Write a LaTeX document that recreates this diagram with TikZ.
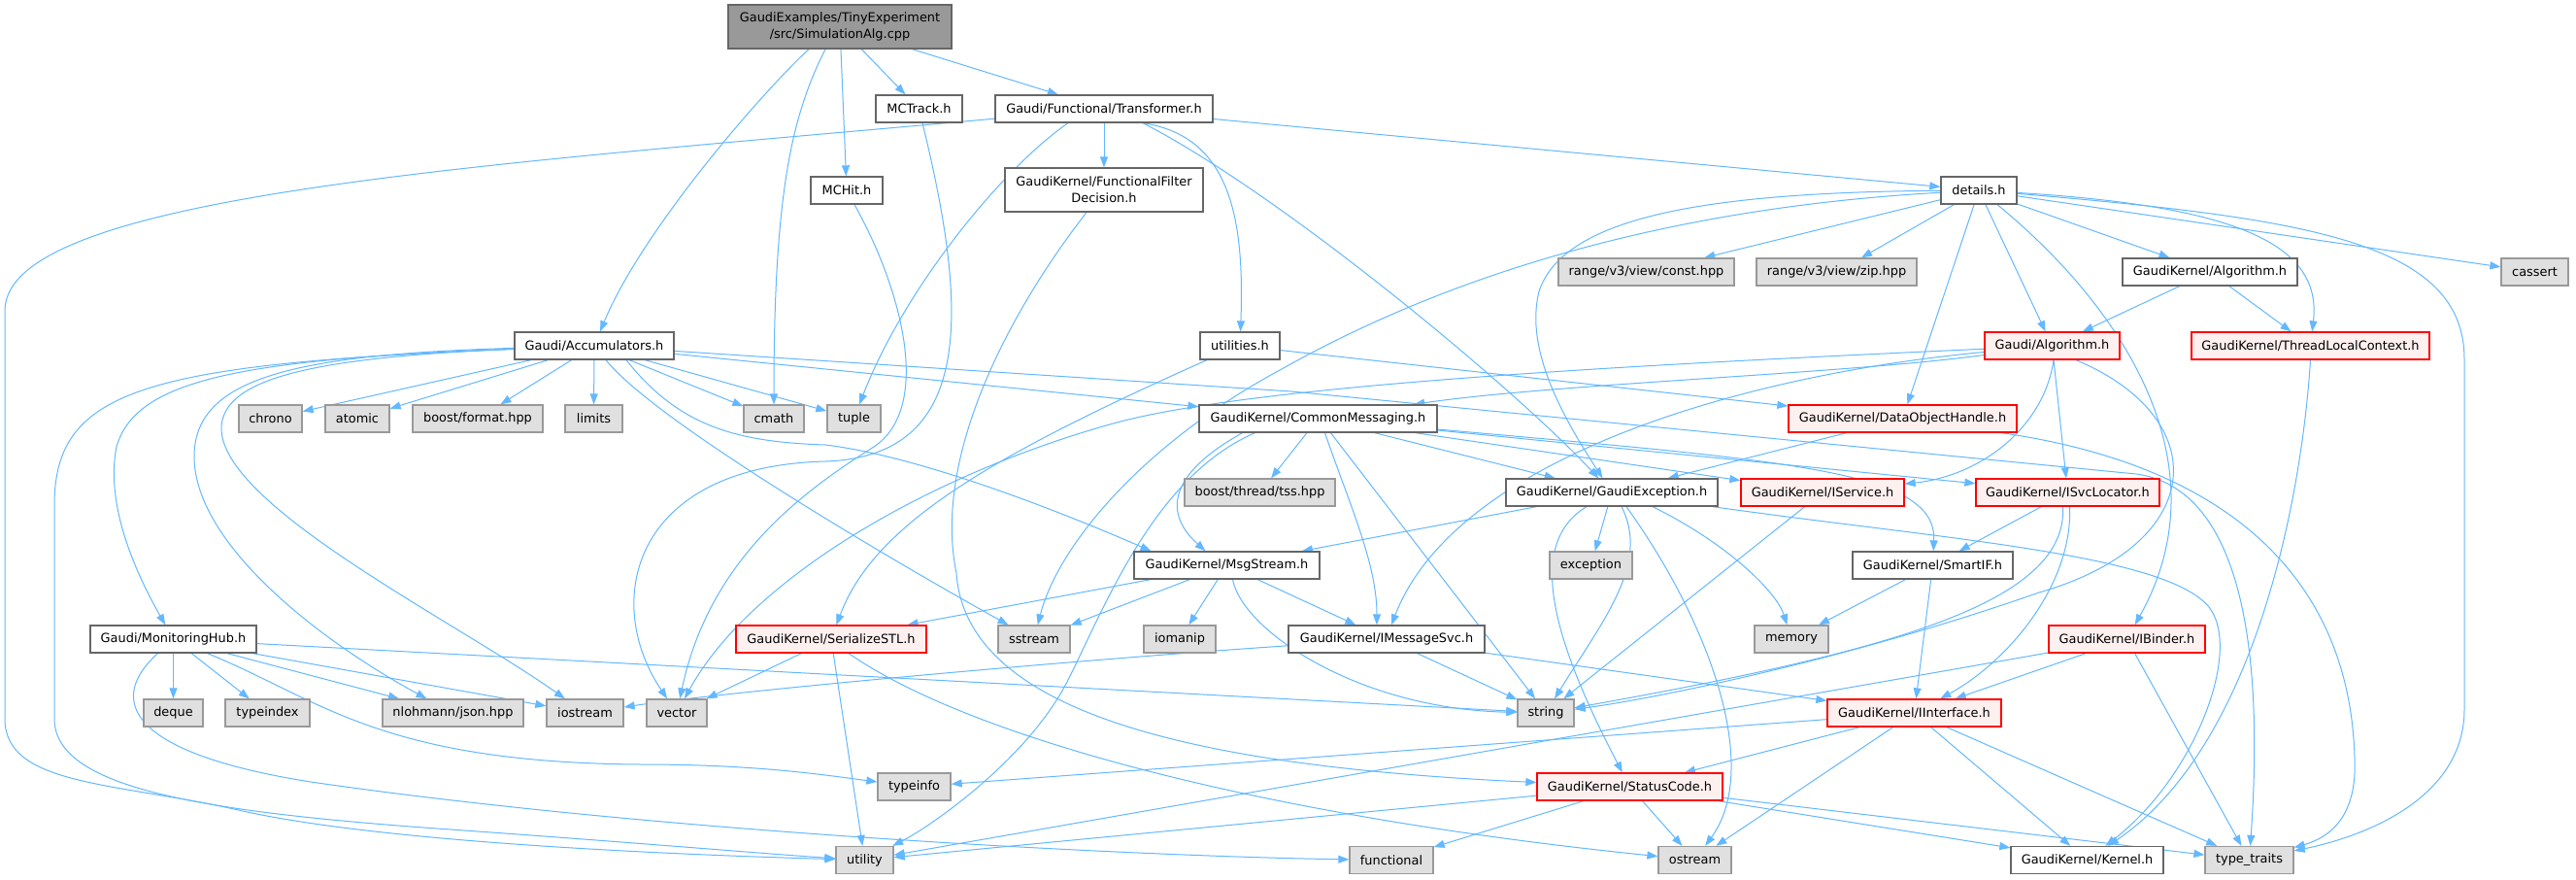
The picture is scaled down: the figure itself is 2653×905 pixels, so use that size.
\documentclass[tikz,border=0pt]{standalone}
\usepackage{fontspec}
\setmainfont{DejaVu Sans}
\usetikzlibrary{arrows.meta,backgrounds}
\definecolor{edgec}{HTML}{63B8FF}
\definecolor{bord}{HTML}{666666}
\definecolor{extfill}{HTML}{E0E0E0}
\definecolor{extbord}{HTML}{999999}
\definecolor{redfill}{HTML}{FFF0F0}
\definecolor{rootfill}{HTML}{999999}
\begin{document}
\begin{tikzpicture}[x=1pt,y=-1pt,
  boxbase/.style={rectangle, draw, line width=1.3pt, inner sep=0pt, minimum height=28pt, font=\fontsize{12.9}{16.7}\selectfont, align=center},
  wnode/.style={boxbase, draw=bord, fill=white},
  xnode/.style={boxbase, draw=extbord, fill=extfill},
  rnode/.style={boxbase, draw=red, fill=redfill},
  rootnode/.style={boxbase, draw=bord, fill=rootfill, minimum height=45pt},
  dep/.style={draw=edgec, line width=1pt, -{Triangle[length=11pt,width=8pt]}},
]
\useasboundingbox (0,0) rectangle (2653,905);

% ---------- nodes ----------
\node[rootnode, minimum width=230pt] (root) at (865,27.5) {GaudiExamples/TinyExperiment\\/src/SimulationAlg.cpp};
\node[wnode, minimum width=89pt] (mctrack) at (946.5,112) {MCTrack.h};
\node[wnode, minimum width=224pt] (transf) at (1137,112) {Gaudi/Functional/Transformer.h};
\node[wnode, minimum width=74pt] (mchit) at (872,196) {MCHit.h};
\node[wnode, minimum width=204pt, minimum height=45pt] (ffd) at (1137,195.5) {GaudiKernel/FunctionalFilter\\Decision.h};
\node[wnode, minimum width=78pt] (details) at (2038,196) {details.h};
\node[xnode, minimum width=181pt] (rconst) at (1695.5,280) {range/v3/view/const.hpp};
\node[xnode, minimum width=165pt] (rzip) at (1891.5,280) {range/v3/view/zip.hpp};
\node[wnode, minimum width=180pt] (gkalgo) at (2276,280) {GaudiKernel/Algorithm.h};
\node[xnode, minimum width=69pt] (cassert) at (2610.5,280) {cassert};
\node[wnode, minimum width=164pt] (acc) at (612,356) {Gaudi/Accumulators.h};
\node[wnode, minimum width=82pt] (utilities) at (1277,356) {utilities.h};
\node[rnode, minimum width=139pt] (galgo) at (2113.5,356) {Gaudi/Algorithm.h};
\node[rnode, minimum width=245pt] (tlc) at (2379.5,356) {GaudiKernel/ThreadLocalContext.h};
\node[xnode, minimum width=65pt] (chrono) at (278.5,431) {chrono};
\node[xnode, minimum width=66pt] (atomic) at (368,431) {atomic};
\node[xnode, minimum width=134pt] (bformat) at (492,431) {boost/format.hpp};
\node[xnode, minimum width=59pt] (limits) at (611.5,431) {limits};
\node[xnode, minimum width=62pt] (cmath) at (797,431) {cmath};
\node[xnode, minimum width=55pt] (tuple) at (879.5,431) {tuple};
\node[wnode, minimum width=245pt] (commsg) at (1357.5,431) {GaudiKernel/CommonMessaging.h};
\node[rnode, minimum width=235pt] (doh) at (1959.5,431) {GaudiKernel/DataObjectHandle.h};
\node[xnode, minimum width=155pt] (tss) at (1297.5,507) {boost/thread/tss.hpp};
\node[wnode, minimum width=218pt] (gexc) at (1660,507) {GaudiKernel/GaudiException.h};
\node[rnode, minimum width=168pt] (iservice) at (1877,507) {GaudiKernel/IService.h};
\node[rnode, minimum width=189pt] (isvc) at (2129.5,507) {GaudiKernel/ISvcLocator.h};
\node[wnode, minimum width=191pt] (msgstream) at (1263.5,582) {GaudiKernel/MsgStream.h};
\node[xnode, minimum width=85pt] (exception) at (1638.5,582) {exception};
\node[wnode, minimum width=165pt] (smartif) at (1990.5,582) {GaudiKernel/SmartIF.h};
\node[wnode, minimum width=171pt] (monhub) at (178.5,658) {Gaudi/MonitoringHub.h};
\node[rnode, minimum width=196pt] (serial) at (856,658) {GaudiKernel/SerializeSTL.h};
\node[xnode, minimum width=74pt] (sstream) at (1065,658) {sstream};
\node[xnode, minimum width=74pt] (iomanip) at (1215,658) {iomanip};
\node[wnode, minimum width=202pt] (imsg) at (1428,658) {GaudiKernel/IMessageSvc.h};
\node[xnode, minimum width=76pt] (memory) at (1845,658) {memory};
\node[rnode, minimum width=161pt] (ibinder) at (2190.5,658) {GaudiKernel/IBinder.h};
\node[xnode, minimum width=61pt] (deque) at (178.5,734) {deque};
\node[xnode, minimum width=87pt] (typeindex) at (275.5,734) {typeindex};
\node[xnode, minimum width=145pt] (json) at (466.5,734) {nlohmann/json.hpp};
\node[xnode, minimum width=79pt] (iostream) at (602.5,734) {iostream};
\node[xnode, minimum width=62pt] (vector) at (697,734) {vector};
\node[xnode, minimum width=58pt] (string) at (1592,734) {string};
\node[rnode, minimum width=179pt] (iinterface) at (1971.5,734) {GaudiKernel/IInterface.h};
\node[xnode, minimum width=75pt] (typeinfo) at (941.5,810) {typeinfo};
\node[rnode, minimum width=191pt] (statuscode) at (1678.5,810) {GaudiKernel/StatusCode.h};
\node[xnode, minimum width=59pt] (utility) at (890.5,885.5) {utility};
\node[xnode, minimum width=86pt] (functional) at (1433,885.5) {functional};
\node[xnode, minimum width=75pt] (ostream) at (1745.5,885.5) {ostream};
\node[wnode, minimum width=157pt] (kernel) at (2149.5,885.5) {GaudiKernel/Kernel.h};
\node[xnode, minimum width=91pt] (typetraits) at (2316.5,885.5) {type\_traits};

% ---------- edges ----------
\begin{pgfonlayer}{background}
\fill[white] (0,0) rectangle (2653,905);
% root
\draw[dep] ([xshift=-32pt]root.south) .. controls (780,100) and (660,240) .. (acc);
\draw[dep] ([xshift=-15pt]root.south) .. controls (815,120) and (797,200) .. (cmath);
\draw[dep] (root) -- (mchit);
\draw[dep] (root) -- (mctrack);
\draw[dep] (root) -- (transf);
% MCTrack / MCHit
\draw[dep] ([xshift=3.5pt]mctrack.south) .. controls (1000,330) and (1000,470) .. (850,475) .. controls (650,480) and (620,620) .. (vector);
\draw[dep] ([xshift=8pt]mchit.south) .. controls (930,300) and (960,420) .. (900,460) .. controls (820,510) and (730,580) .. (vector);
% Transformer
\draw[dep] (transf) .. controls (500,170) and (5,200) .. (5,320) -- (5,740) .. controls (5,810) and (120,805) .. (250,835) .. controls (400,868) and (700,880) .. (utility);
\draw[dep] ([xshift=-37pt]transf.south) .. controls (1030,175) and (930,300) .. (tuple);
\draw[dep] (transf) -- (ffd);
\draw[dep] ([xshift=40pt]transf.south) .. controls (1265,140) and (1282,220) .. (utilities);
\draw[dep] ([xshift=40pt]transf.south) .. controls (1320,200) and (1560,400) .. (gexc);
\draw[dep] (transf) -- (details);
% FFD
\draw[dep] ([xshift=-18pt]ffd.south) .. controls (1040,320) and (960,470) .. (985,590) .. controls (995,740) and (1250,790) .. (statuscode);
% details
\draw[dep] (details) -- (rconst);
\draw[dep] (details) -- (rzip);
\draw[dep] (details) -- (gkalgo);
\draw[dep] (details) -- (cassert);
\draw[dep] (details) .. controls (2300,212) and (2392,250) .. (tlc);
\draw[dep] (details) .. controls (2380,225) and (2538,250) .. (2538,370) -- (2538,730) .. controls (2538,820) and (2440,860) .. (typetraits);
\draw[dep] (details) -- (galgo);
\draw[dep] (details) -- (doh);
\draw[dep] ([xshift=19pt]details.south) .. controls (2190,320) and (2290,480) .. (ibinder);
\draw[dep] (details) .. controls (1750,198) and (1610,225) .. (1585,300) .. controls (1570,360) and (1610,430) .. (gexc);
\draw[dep] (details) .. controls (1700,215) and (1480,290) .. (1320,380) .. controls (1180,455) and (1090,560) .. (sstream);
% GaudiKernel/Algorithm
\draw[dep] (gkalgo) -- (galgo);
\draw[dep] (gkalgo) -- (tlc);
% Gaudi/Algorithm
\draw[dep] (galgo) .. controls (1900,385) and (1600,395) .. (commsg);
\draw[dep] (galgo) .. controls (1700,375) and (1300,395) .. (1150,435) .. controls (950,490) and (770,600) .. (vector);
\draw[dep] (galgo) .. controls (1800,385) and (1500,470) .. ([xshift=5pt]imsg.north);
\draw[dep] ([xshift=1.5pt]galgo.south) .. controls (2105,440) and (2040,490) .. (iservice);
\draw[dep] (galgo) -- (isvc);
\draw[dep] ([xshift=24.5pt]galgo.south) .. controls (2280,430) and (2275,560) .. (2100,610) .. controls (1900,680) and (1700,720) .. (string);
% ThreadLocalContext
\draw[dep] (tlc.south) .. controls (2370,520) and (2320,770) .. (kernel);
% utilities
\draw[dep] (utilities) -- (doh);
\draw[dep] ([xshift=-34pt]utilities.south) .. controls (1020,470) and (900,540) .. (serial);
% Accumulators
\draw[dep] (acc) .. controls (150,375) and (56,400) .. (56,520) -- (56,740) .. controls (56,810) and (200,835) .. (450,853) .. controls (650,867) and (800,880) .. (utility);
\draw[dep] (acc) .. controls (250,370) and (140,390) .. (120,460) .. controls (108,520) and (140,590) .. (monhub);
\draw[dep] (acc) .. controls (300,365) and (200,390) .. (200,470) .. controls (200,560) and (330,660) .. (json);
\draw[dep] (acc) .. controls (320,368) and (230,390) .. (228,440) .. controls (226,520) and (470,640) .. (iostream);
\draw[dep] (acc) -- (chrono);
\draw[dep] (acc) -- (atomic);
\draw[dep] (acc) -- (bformat);
\draw[dep] (acc) -- (limits);
\draw[dep] (acc) -- (cmath);
\draw[dep] (acc) -- (tuple);
\draw[dep] (acc) -- (commsg);
\draw[dep] ([xshift=33pt]acc.south) .. controls (700,440) and (760,455) .. (850,458) .. controls (950,470) and (1100,530) .. ([xshift=-78pt]msgstream.north);
\draw[dep] ([xshift=12pt]acc.south) .. controls (680,440) and (960,600) .. (sstream);
\draw[dep] (acc) -- (1330,403) -- (2200,488) .. controls (2290,500) and (2335,620) .. (typetraits);
% CommonMessaging
\draw[dep] (commsg) -- (tss);
\draw[dep] ([xshift=-78pt]commsg.south) .. controls (1200,490) and (1200,530) .. ([xshift=-22pt]msgstream.north);
\draw[dep] ([xshift=-65pt]commsg.south) .. controls (1190,490) and (1140,620) .. (1100,700) .. controls (1060,780) and (960,850) .. (utility);
\draw[dep] ([xshift=7pt]commsg.south) .. controls (1390,520) and (1418,580) .. ([xshift=-10pt]imsg.north);
\draw[dep] ([xshift=13pt]commsg.south) -- ([xshift=-11pt]string.north);
\draw[dep] (commsg) -- (gexc);
\draw[dep] (commsg) -- (iservice);
\draw[dep] (commsg) -- (isvc);
\draw[dep] (commsg) .. controls (1850,475) and (1995,485) .. (smartif);
% DataObjectHandle
\draw[dep] (doh) -- (gexc);
\draw[dep] (doh) .. controls (2300,480) and (2420,600) .. (2425,780) .. controls (2428,840) and (2400,862) .. (typetraits);
% GaudiException
\draw[dep] (gexc) -- (msgstream);
\draw[dep] (gexc) -- (exception);
\draw[dep] ([xshift=10pt]gexc.south) .. controls (1700,580) and (1650,640) .. (string);
\draw[dep] ([xshift=-26pt]gexc.south) .. controls (1570,560) and (1600,660) .. (statuscode);
\draw[dep] ([xshift=15pt]gexc.south) .. controls (1760,640) and (1815,790) .. (ostream);
\draw[dep] ([xshift=42pt]gexc.south) .. controls (1780,560) and (1830,610) .. (memory);
\draw[dep] (gexc) .. controls (2000,555) and (2230,570) .. (2275,625) .. controls (2310,670) and (2260,800) .. (kernel);
% IService, ISvcLocator, SmartIF
\draw[dep] (iservice) -- (string);
\draw[dep] (isvc) -- (smartif);
\draw[dep] ([xshift=-5pt]isvc.south) .. controls (2130,620) and (1950,670) .. (string);
\draw[dep] ([xshift=2pt]isvc.south) .. controls (2135,600) and (2070,680) .. (iinterface);
\draw[dep] (smartif) -- (memory);
\draw[dep] (smartif) -- (iinterface);
% MsgStream
\draw[dep] (msgstream) -- (serial);
\draw[dep] (msgstream) -- (sstream);
\draw[dep] (msgstream) -- (iomanip);
\draw[dep] (msgstream) -- (imsg);
\draw[dep] ([xshift=6pt]msgstream.south) .. controls (1280,650) and (1400,730) .. (string);
% MonitoringHub
\draw[dep] (monhub) -- (deque);
\draw[dep] (monhub) -- (typeindex);
\draw[dep] (monhub) -- (json);
\draw[dep] (monhub) -- (iostream);
\draw[dep] (monhub) -- (string);
\draw[dep] ([xshift=35pt]monhub.south) .. controls (330,720) and (390,785) .. (660,787) .. controls (780,787) and (850,798) .. (typeinfo);
\draw[dep] ([xshift=-16pt]monhub.south) .. controls (110,720) and (130,775) .. (320,805) .. controls (700,860) and (1200,882) .. (functional);
% SerializeSTL
\draw[dep] (serial) -- (vector);
\draw[dep] (serial) -- (utility);
\draw[dep] ([xshift=18pt]serial.south) .. controls (1000,760) and (1300,840) .. (ostream);
% IMessageSvc
\draw[dep] (imsg) .. controls (1100,680) and (750,712) .. (iostream);
\draw[dep] (imsg) -- (string);
\draw[dep] (imsg) -- (iinterface);
% IBinder
\draw[dep] (ibinder) -- (iinterface);
\draw[dep] (ibinder) -- (utility);
\draw[dep] (ibinder) -- (typetraits);
% IInterface
\draw[dep] (iinterface) -- (typeinfo);
\draw[dep] (iinterface) -- (statuscode);
\draw[dep] (iinterface) -- (ostream);
\draw[dep] (iinterface) -- (kernel);
\draw[dep] (iinterface) -- (typetraits);
% StatusCode
\draw[dep] (statuscode) -- (utility);
\draw[dep] (statuscode) -- (functional);
\draw[dep] (statuscode) -- (ostream);
\draw[dep] (statuscode) -- (kernel);
\draw[dep] (statuscode) -- (typetraits);
\end{pgfonlayer}
\end{tikzpicture}
\end{document}
